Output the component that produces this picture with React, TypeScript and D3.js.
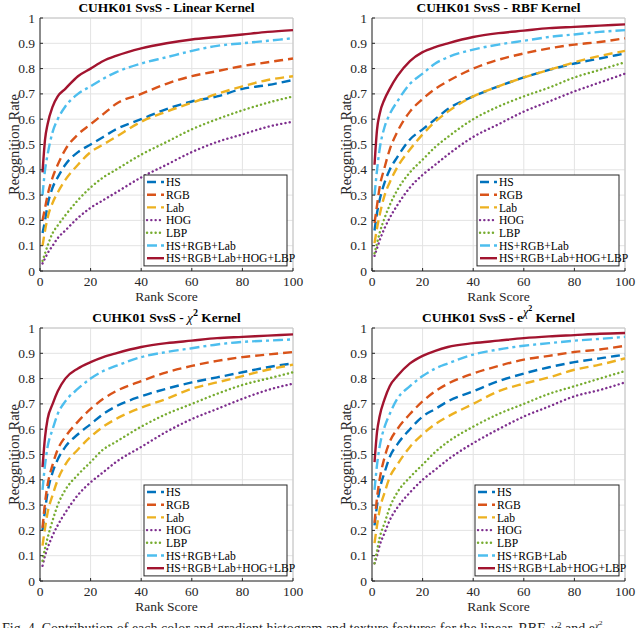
import * as d3 from 'd3';

const RANKS = [1, 2, 3, 5, 7, 10, 15, 20, 25, 30, 40, 50, 60, 70, 80, 90, 100];

const SERIES = ['HS', 'RGB', 'Lab', 'HOG', 'LBP', 'HS+RGB+Lab', 'HS+RGB+Lab+HOG+LBP'];
const COLORS = ['#0072BD', '#D95319', '#EDB120', '#7E2F8E', '#77AC30', '#4DBEEE', '#A2142F'];
const DASHES = ['9,5', '9,5', '9,5', '0.1,4.2', '0.1,4.2', '10,4,3,4', null];

const X_TICKS = [0, 20, 40, 60, 80, 100];
const Y_TICKS = [0, 0.1, 0.2, 0.3, 0.4, 0.5, 0.6, 0.7, 0.8, 0.9, 1];

// one array per series, in SERIES order
const linearValues = [
  [0.15, 0.2, 0.26, 0.33, 0.37, 0.42, 0.47, 0.5, 0.53, 0.56, 0.6, 0.64, 0.67, 0.69, 0.72, 0.735, 0.755],
  [0.2, 0.25, 0.3, 0.37, 0.42, 0.48, 0.54, 0.58, 0.62, 0.66, 0.7, 0.74, 0.77, 0.79, 0.81, 0.825, 0.84],
  [0.1, 0.16, 0.21, 0.27, 0.31, 0.36, 0.42, 0.47, 0.5, 0.53, 0.59, 0.63, 0.665, 0.7, 0.73, 0.755, 0.77],
  [0.03, 0.05, 0.07, 0.1, 0.13, 0.16, 0.21, 0.25, 0.28, 0.31, 0.37, 0.42, 0.47, 0.51, 0.54, 0.57, 0.59],
  [0.04, 0.07, 0.1, 0.15, 0.18, 0.22, 0.28, 0.33, 0.37, 0.4, 0.46, 0.51, 0.56, 0.6, 0.635, 0.665, 0.69],
  [0.3, 0.4, 0.46, 0.55, 0.6, 0.65, 0.7, 0.73, 0.76, 0.785, 0.82, 0.845, 0.87, 0.89, 0.9, 0.91, 0.92],
  [0.39, 0.52, 0.58, 0.65, 0.69, 0.72, 0.77, 0.8, 0.83, 0.85, 0.88, 0.9, 0.915, 0.925, 0.935, 0.945, 0.952],
];

const rbfValues = [
  [0.16, 0.23, 0.28, 0.35, 0.4, 0.45, 0.52, 0.56, 0.6, 0.64, 0.69, 0.73, 0.765, 0.795, 0.82, 0.84, 0.86],
  [0.19, 0.26, 0.33, 0.41, 0.48, 0.55, 0.63, 0.68, 0.72, 0.75, 0.8, 0.835, 0.86, 0.88, 0.895, 0.905, 0.92],
  [0.11, 0.17, 0.22, 0.3, 0.35, 0.41, 0.48, 0.54, 0.59, 0.63, 0.69, 0.73, 0.765, 0.795, 0.825, 0.85, 0.87],
  [0.06, 0.09, 0.12, 0.17, 0.21, 0.26, 0.33, 0.38, 0.42, 0.46, 0.53, 0.58, 0.63, 0.67, 0.71, 0.745, 0.78],
  [0.07, 0.11, 0.15, 0.21, 0.26, 0.32, 0.39, 0.44, 0.49, 0.53, 0.6, 0.65, 0.69, 0.725, 0.765, 0.795, 0.825],
  [0.3, 0.4, 0.48, 0.57, 0.62, 0.67, 0.74, 0.78, 0.82, 0.845, 0.875, 0.895, 0.91, 0.925, 0.935, 0.945, 0.952],
  [0.42, 0.56, 0.62, 0.68, 0.72, 0.77, 0.83, 0.865, 0.885, 0.9, 0.925, 0.94, 0.95, 0.96, 0.965, 0.97, 0.975],
];

const chiValues = [
  [0.2, 0.28, 0.35, 0.43, 0.48, 0.53, 0.58, 0.62, 0.66, 0.69, 0.73, 0.76, 0.785, 0.805, 0.825, 0.845, 0.86],
  [0.21, 0.31, 0.38, 0.46, 0.52, 0.57, 0.63, 0.68, 0.72, 0.75, 0.79, 0.825, 0.85, 0.87, 0.885, 0.895, 0.905],
  [0.14, 0.21, 0.27, 0.34, 0.4, 0.46, 0.52, 0.57, 0.61, 0.64, 0.685, 0.72, 0.76, 0.785, 0.81, 0.835, 0.855],
  [0.06, 0.1, 0.13, 0.18, 0.22, 0.27, 0.34, 0.39, 0.43, 0.47, 0.53, 0.59, 0.64, 0.68, 0.72, 0.755, 0.78],
  [0.08, 0.13, 0.17, 0.24, 0.3, 0.36, 0.42, 0.47, 0.52, 0.55, 0.61, 0.66, 0.7, 0.74, 0.775, 0.8, 0.825],
  [0.36, 0.46, 0.53, 0.6, 0.66, 0.71, 0.76, 0.8, 0.83, 0.85, 0.885, 0.905, 0.92, 0.935, 0.945, 0.95, 0.955],
  [0.45, 0.57, 0.64, 0.7, 0.75, 0.8, 0.84, 0.865, 0.885, 0.9, 0.925, 0.94, 0.95, 0.96, 0.965, 0.97, 0.975],
];

const expChiValues = [
  [0.22, 0.3, 0.36, 0.43, 0.49, 0.54, 0.6, 0.65, 0.68, 0.71, 0.75, 0.79, 0.82, 0.845, 0.865, 0.88, 0.895],
  [0.23, 0.33, 0.4, 0.49, 0.55, 0.6, 0.66, 0.71, 0.75, 0.78, 0.82, 0.85, 0.875, 0.89, 0.905, 0.915, 0.93],
  [0.15, 0.22, 0.28, 0.35, 0.41, 0.46, 0.53, 0.58, 0.62, 0.65, 0.7, 0.75, 0.78, 0.805, 0.835, 0.855, 0.88],
  [0.07, 0.1, 0.14, 0.19, 0.24, 0.29, 0.35, 0.4, 0.44, 0.48, 0.545, 0.6, 0.65, 0.69, 0.73, 0.755, 0.785],
  [0.07, 0.12, 0.17, 0.23, 0.29, 0.35, 0.41, 0.46, 0.51, 0.55, 0.61, 0.66, 0.7, 0.74, 0.77, 0.8, 0.83],
  [0.36, 0.46, 0.53, 0.61, 0.66, 0.72, 0.77, 0.81, 0.84, 0.86, 0.895, 0.915, 0.93, 0.94, 0.95, 0.957, 0.965],
  [0.47, 0.59, 0.65, 0.72, 0.77, 0.81, 0.86, 0.89, 0.91, 0.925, 0.94, 0.95, 0.96, 0.967, 0.972, 0.977, 0.98],
];

const SERIF = { fontFamily: "'Liberation Serif', 'Times New Roman', serif" };

type PanelProps = {
  left: number;
  top: number;
  plotLeft: number;
  values: number[][];
  title: any;
  legendLeft: number;
};

function Panel({ left, top, plotLeft, values, title, legendLeft }: PanelProps) {
  const x = d3.scaleLinear().domain([0, 100]).range([plotLeft, plotLeft + 253]);
  const y = d3.scaleLinear().domain([0, 1]).range([top + 271, top + 18]);
  const [x0, x1] = x.range();
  const [y0, y1] = y.range();

  const line = d3
    .line<number>()
    .x((_, i) => x(RANKS[i]))
    .y((v) => y(v))
    .curve(d3.curveMonotoneX);

  const legendTop = top + 175;
  const legendRight = x1 - 6;
  const rowH = 12.7;
  const isDotted = (i: number) => !!DASHES[i] && DASHES[i]!.startsWith('0.1');

  return (
    <g style={SERIF}>
      <text x={(x0 + x1) / 2} y={top + 12} textAnchor="middle" fontWeight="bold" fontSize={13.4}>
        {title}
      </text>
      {X_TICKS.map((t) => (
        <line key={'gx' + t} x1={x(t)} x2={x(t)} y1={y0} y2={y1} stroke="#e3e3e3" strokeWidth={1} />
      ))}
      {Y_TICKS.map((t) => (
        <line key={'gy' + t} x1={x0} x2={x1} y1={y(t)} y2={y(t)} stroke="#e3e3e3" strokeWidth={1} />
      ))}
      <line x1={x0} x2={x1} y1={y1} y2={y1} stroke="#c4c4c4" />
      <line x1={x1} x2={x1} y1={y0} y2={y1} stroke="#c4c4c4" />

      {values.map((vals, i) => (
        <path
          key={SERIES[i]}
          d={line(vals) || ''}
          fill="none"
          stroke={COLORS[i]}
          strokeWidth={2.4}
          strokeDasharray={DASHES[i] || undefined}
          strokeLinecap={isDotted(i) ? 'round' : 'butt'}
        />
      ))}

      <line x1={x0} x2={x0} y1={y0} y2={y1} stroke="#262626" />
      <line x1={x0} x2={x1} y1={y0} y2={y0} stroke="#262626" />
      {X_TICKS.map((t) => (
        <g key={'tx' + t}>
          <line x1={x(t)} x2={x(t)} y1={y0} y2={y0 - 3} stroke="#262626" />
          <text x={x(t)} y={y0 + 15} textAnchor="middle" fontSize={13.5} fill="#262626">
            {t}
          </text>
        </g>
      ))}
      {Y_TICKS.map((t) => (
        <g key={'ty' + t}>
          <line x1={x0} x2={x0 + 3} y1={y(t)} y2={y(t)} stroke="#262626" />
          <text x={x0 - 5} y={y(t) + 4.5} textAnchor="end" fontSize={13.5} fill="#262626">
            {d3.format('~g')(t)}
          </text>
        </g>
      ))}
      <text x={(x0 + x1) / 2} y={top + 301} textAnchor="middle" fontSize={13.5} fill="#262626">
        Rank Score
      </text>
      <text
        transform={`translate(${left + 19},${(y0 + y1) / 2}) rotate(-90)`}
        textAnchor="middle"
        fontSize={14.5}
        fill="#262626"
      >
        Recognition Rate
      </text>

      <rect
        x={legendLeft}
        y={legendTop}
        width={legendRight - legendLeft}
        height={rowH * 7 + 2}
        fill="#fff"
        stroke="#262626"
        strokeWidth={1}
      />
      {SERIES.map((s, i) => {
        const ly = legendTop + 7 + i * rowH;
        return (
          <g key={'lg' + s}>
            <line
              x1={legendLeft + 3}
              x2={legendLeft + 20}
              y1={ly}
              y2={ly}
              stroke={COLORS[i]}
              strokeWidth={2.4}
              strokeDasharray={DASHES[i] || undefined}
              strokeLinecap={isDotted(i) ? 'round' : 'butt'}
            />
            <text x={legendLeft + 22} y={ly + 4.2} fontSize={11.6} fill="#000">
              {s}
            </text>
          </g>
        );
      })}
    </g>
  );
}

export default function App() {
  return (
    <div style={{ position: 'fixed', left: 0, top: 0 }}>
      <svg width={640} height={628} style={{ display: 'block', background: '#fff', ...SERIF }}>
        <Panel left={0} top={0} plotLeft={40} values={linearValues} legendLeft={144} title="CUHK01 SvsS - Linear Kernel" />
        <Panel left={332} top={0} plotLeft={372} values={rbfValues} legendLeft={477} title="CUHK01 SvsS - RBF Kernel" />
        <Panel
          left={0}
          top={310}
          plotLeft={40}
          values={chiValues}
          legendLeft={144}
          title={
            <>
              CUHK01 SvsS -{'  '}
              <tspan fontStyle="italic" fontWeight="normal">χ</tspan>
              <tspan dy={-6} fontSize={10}>2</tspan>
              <tspan dy={6}> Kernel</tspan>
            </>
          }
        />
        <Panel
          left={332}
          top={310}
          plotLeft={372}
          values={expChiValues}
          legendLeft={475}
          title={
            <>
              CUHK01 SvsS - e
              <tspan dy={-6} fontStyle="italic" fontWeight="normal" fontSize={12}>χ</tspan>
              <tspan dy={-5} fontSize={8}>2</tspan>
              <tspan dy={11}>{'  '}Kernel</tspan>
            </>
          }
        />
        <text x={2} y={633} fontSize={14} fill="#222">
          Fig. 4.{'   '}Contribution of each color and gradient histogram and texture features for the linear, RBF,{' '}
          <tspan fontStyle="italic">χ</tspan>
          <tspan dy={-5} fontSize={9}>2</tspan>
          <tspan dy={5}> and e</tspan>
          <tspan dy={-5} fontSize={9} fontStyle="italic">χ</tspan>
          <tspan dy={-3} fontSize={7}>2</tspan>
        </text>
      </svg>
    </div>
  );
}
